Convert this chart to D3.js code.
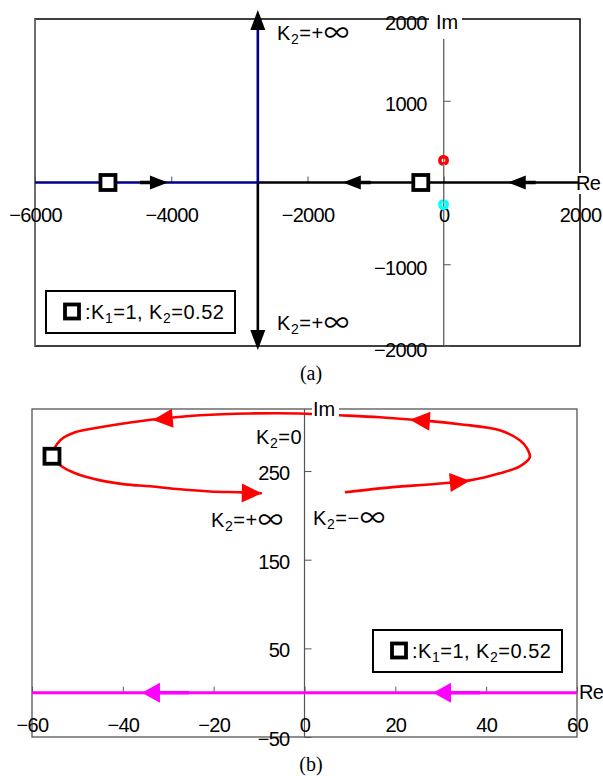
<!DOCTYPE html>
<html><head><meta charset="utf-8">
<script src="https://cdn.jsdelivr.net/npm/d3@7"></script>
<style>body{margin:0;background:#fff}svg{display:block}</style>
</head><body>
<svg id="c" width="603" height="776"></svg>
<script>
// ---------------- data ----------------
// complex-pair locus (upper half), traced from K2=-inf end to K2=+inf end
const loopRe = [8.9, 16.6, 29.8, 36.4, 43.0, 47.4, 49.6, 49.0, 47.4, 43.0, 34.2, 25.4, 16.6, 7.8, -1.0, -12.0, -23.0, -32.9, -39.5, -45.0, -50.5, -53.8, -55.6, -53.8, -50.5, -45.0, -39.5, -34.0, -27.4, -20.8, -13.5, -9.4];
const loopIm = [226, 230.5, 236, 239.5, 247.5, 255.4, 265.5, 275.7, 284.7, 296, 302.8, 307.3, 310.7, 313, 315, 315, 313, 308.5, 304, 299.4, 293.8, 284.7, 266.7, 256.5, 247.5, 239.5, 235, 232.8, 229.4, 227, 226, 224.9];
// real-axis branches (panel a)
const navyRe = [-6000, -2729, -2729];
const navyIm = [0, 0, 2000];
const blackRe = [2000, -2729, -2729];
const blackIm = [0, 0, -2000];
// real-axis branch (panel b)
const realRe = [-60, 60];
const realIm = [0, 0];
// K1=1, K2=0.52 roots
const markARe = [-4929, -337];
const markAIm = [0, 0];
const markBRe = [-55.6];
const markBIm = [266.7];
// arrows: tip and a point behind it (direction)
const arrowsA = [
  {tipRe: -4049, tipIm: 0, fromRe: -4600, fromIm: 0},
  {tipRe: -1482, tipIm: 0, fromRe: -900, fromIm: 0},
  {tipRe: 939, tipIm: 0, fromRe: 1500, fromIm: 0},
  {tipRe: -2729, tipIm: 2110, fromRe: -2729, fromIm: 1500},
  {tipRe: -2729, tipIm: -2050, fromRe: -2729, fromIm: -1500}
];
const arrowsRed = [
  {tipRe: 23.2, tipIm: 307.8, fromRe: 29.8, fromIm: 305.5},
  {tipRe: -33.4, tipIm: 307.5, fromRe: -23.0, fromIm: 312.5},
  {tipRe: 36.4, tipIm: 239.0, fromRe: 29.8, fromIm: 236},
  {tipRe: -9.4, tipIm: 224.9, fromRe: -16.0, fromIm: 225.6}
];
const arrowsMag = [
  {tipRe: -35.8, tipIm: 0, fromRe: -25, fromIm: 0},
  {tipRe: 28.3, tipIm: 0, fromRe: 40, fromIm: 0}
];
const xTicksA = [-6000, -4000, -2000, 0, 2000];
const yTicksA = [2000, 1000, -1000, -2000];
const xTicksB = [-60, -40, -20, 0, 20, 40, 60];
const yTicksB = [250, 150, 50, -50];

// ---------------- drawing ----------------
const svg = d3.select("#c");
const FONT = "'Liberation Sans', Arial, sans-serif";
const FS = 20, LS = -0.7;
const fmt = d3.format("d");

function arrow(g, x, y, a, len, wid, color, shaft) {
  const dx = x(a.tipRe) - x(a.fromRe), dy = y(a.tipIm) - y(a.fromIm);
  const ang = Math.atan2(dy, dx) * 180 / Math.PI;
  const t = g.append("g").attr("transform", `translate(${x(a.tipRe)},${y(a.tipIm)}) rotate(${ang})`);
  if (shaft) t.append("line").attr("x1", -len - shaft).attr("x2", -len + 2).attr("y1", 0).attr("y2", 0)
      .attr("stroke", color).attr("stroke-width", 3.5);
  t.append("path").attr("d", `M0,0 L${-len},${-wid/2} L${-len},${wid/2} Z`).attr("fill", color);
}

function kLabel(g, x, y, sub, rest) {
  const t = g.append("text").attr("x", x).attr("y", y).attr("font-family", FONT).attr("font-size", FS)
    .attr("letter-spacing", 0.6).attr("fill", "#000");
  t.append("tspan").text("K");
  t.append("tspan").attr("font-size", 14).attr("dy", 4).text(sub);
  const parts = rest.split("∞");
  t.append("tspan").attr("dy", -4).text(parts[0]);
  if (parts.length > 1) t.append("tspan").attr("font-family", "'Noto Sans CJK JP', sans-serif").attr("font-size", 25).attr("dy", 1.5).text("∞");
  return t;
}

function legend(g, x0, y0, w, h) {
  g.append("rect").attr("x", x0).attr("y", y0).attr("width", w).attr("height", h)
    .attr("fill", "#fff").attr("stroke", "#000").attr("stroke-width", 2);
  g.append("rect").attr("x", x0 + 19).attr("y", y0 + h/2 - 7.5).attr("width", 14).attr("height", 14)
    .attr("fill", "#fff").attr("stroke", "#000").attr("stroke-width", 3.8);
  const t = g.append("text").attr("x", x0 + 39).attr("y", y0 + h/2 + 7).attr("font-family", FONT)
    .attr("font-size", FS).attr("letter-spacing", 0.5);
  t.append("tspan").text(":K");
  t.append("tspan").attr("font-size", 14).attr("dy", 4).text("1");
  t.append("tspan").attr("dy", -4).text("=1,   K");
  t.append("tspan").attr("font-size", 14).attr("dy", 4).text("2");
  t.append("tspan").attr("dy", -4).text("=0.52");
}

function squares(g, x, y, re, im) {
  g.selectAll(null).data(re).enter().append("rect")
    .attr("x", (d, i) => x(d) - 7.5).attr("y", (d, i) => y(im[i]) - 7.5)
    .attr("width", 15).attr("height", 15)
    .attr("fill", "#fff").attr("stroke", "#000").attr("stroke-width", 3.8);
}

const lineGen = (x, y) => d3.line().x(d => x(d[0])).y(d => y(d[1]));
const zip = (a, b) => a.map((v, i) => [v, b[i]]);

function styleAxis(a) {
  a.select(".domain").remove();
  a.selectAll("line").attr("stroke", "#555");
  a.selectAll("text").attr("font-family", FONT).attr("font-size", FS).attr("letter-spacing", LS).attr("fill", "#000");
}

// ======== Panel (a) ========
{
  const x = d3.scaleLinear().domain([-6000, 2000]).range([35, 580]);
  const y = d3.scaleLinear().domain([-2000, 2000]).range([346, 19]);
  const g = svg.append("g");
  g.append("rect").attr("x", 35).attr("y", 19).attr("width", 545).attr("height", 327)
    .attr("fill", "none").attr("stroke", "#000").attr("stroke-width", 1.5);
  g.append("line").attr("x1", 35).attr("x2", 35).attr("y1", 19).attr("y2", 346).attr("stroke", "#808080").attr("stroke-width", 1.5);
  g.append("line").attr("x1", 35).attr("x2", 580).attr("y1", y(0)).attr("y2", y(0)).attr("stroke", "#555").attr("stroke-width", 1.2);
  g.append("line").attr("x1", x(0)).attr("x2", x(0)).attr("y1", 39).attr("y2", 346).attr("stroke", "#555").attr("stroke-width", 1.2);
  const xa = g.append("g").attr("transform", `translate(0,${y(0)})`)
    .call(d3.axisBottom(x).tickValues(xTicksA).tickFormat(fmt).tickSize(-6).tickPadding(25));
  const ya = g.append("g").attr("transform", `translate(${x(0)},0)`)
    .call(d3.axisLeft(y).tickValues(yTicksA).tickFormat(fmt).tickSize(-7).tickPadding(17));
  styleAxis(xa); styleAxis(ya);
  ya.selectAll(".tick text").attr("dy", "0.5em");
  g.append("path").datum(zip(blackRe, blackIm)).attr("d", lineGen(x, y)).attr("fill", "none").attr("stroke", "#000").attr("stroke-width", 2.6);
  g.append("path").datum(zip(navyRe, navyIm)).attr("d", lineGen(x, y)).attr("fill", "none").attr("stroke", "#00008b").attr("stroke-width", 2.6);
  g.append("path").datum(zip(loopRe, loopIm)).attr("d", lineGen(x, y).curve(d3.curveCatmullRom)).attr("fill", "none").attr("stroke", "#ff0000").attr("stroke-width", 3.6);
  g.append("path").datum(zip(loopRe, loopIm.map(v => -v))).attr("d", lineGen(x, y).curve(d3.curveCatmullRom)).attr("fill", "none").attr("stroke", "#00ffff").attr("stroke-width", 3.6);
  arrowsA.forEach((a, i) => arrow(g, x, y, a, i < 3 ? 18 : 20, i < 3 ? 14 : 15, "#000", i < 3 ? 10 : 0));
  squares(g, x, y, markARe, markAIm);
  legend(g, 46, 291, 189, 42);
  kLabel(g, 277, 40, "2", "=+∞");
  kLabel(g, 277, 330, "2", "=+∞");
  g.append("rect").attr("x", 429).attr("y", 6).attr("width", 33).attr("height", 32).attr("fill", "#fff");
  g.append("text").attr("x", 436).attr("y", 29).attr("font-family", FONT).attr("font-size", FS).text("Im");
  g.append("rect").attr("x", 578).attr("y", 173).attr("width", 25).attr("height", 21).attr("fill", "#fff");
  g.append("text").attr("x", 576).attr("y", 190).attr("font-family", FONT).attr("font-size", FS).attr("letter-spacing", LS).text("Re");
  g.append("text").attr("x", 311).attr("y", 380).attr("text-anchor", "middle").attr("font-family", "'Liberation Serif', 'Times New Roman', serif").attr("font-size", 20).text("(a)");
}

// ======== Panel (b) ========
{
  const x = d3.scaleLinear().domain([-60, 60]).range([32, 577]);
  const y = d3.scaleLinear().domain([-50, 320]).range([737, 409]);
  const g = svg.append("g");
  g.append("rect").attr("x", 32).attr("y", 409).attr("width", 545).attr("height", 328)
    .attr("fill", "none").attr("stroke", "#555").attr("stroke-width", 1.3);
  g.append("line").attr("x1", x(0)).attr("x2", x(0)).attr("y1", 409).attr("y2", 737).attr("stroke", "#555").attr("stroke-width", 1.2);
  const xa = g.append("g").attr("transform", `translate(0,${y(0)})`)
    .call(d3.axisBottom(x).tickValues(xTicksB).tickFormat(fmt).tickSize(-6).tickPadding(25));
  const ya = g.append("g").attr("transform", `translate(${x(0)},0)`)
    .call(d3.axisLeft(y).tickValues(yTicksB).tickFormat(fmt).tickSize(-7).tickPadding(15));
  styleAxis(xa); styleAxis(ya);
  ya.selectAll(".tick text").attr("dy", "0.42em");
  g.append("path").datum(zip(realRe, realIm)).attr("d", lineGen(x, y)).attr("fill", "none").attr("stroke", "#ff00ff").attr("stroke-width", 3);
  g.append("path").datum(zip(loopRe, loopIm)).attr("d", lineGen(x, y).curve(d3.curveCatmullRom)).attr("fill", "none").attr("stroke", "#ff0000").attr("stroke-width", 2.6);
  arrowsRed.forEach(a => arrow(g, x, y, a, 20, 19, "#ff0000", 0));
  arrowsMag.forEach(a => arrow(g, x, y, a, 18, 20, "#ff00ff", 29));
  squares(g, x, y, markBRe, markBIm);
  legend(g, 373, 630, 189, 42);
  kLabel(g, 256, 444, "2", "=0");
  kLabel(g, 211, 527, "2", "=+∞");
  kLabel(g, 313, 525, "2", "=−∞");
  g.append("rect").attr("x", 312).attr("y", 398).attr("width", 27).attr("height", 20).attr("fill", "#fff");
  g.append("text").attr("x", 313).attr("y", 416).attr("font-family", FONT).attr("font-size", FS).text("Im");
  g.append("text").attr("x", 579).attr("y", 699).attr("font-family", FONT).attr("font-size", FS).attr("letter-spacing", LS).text("Re");
  g.append("text").attr("x", 311).attr("y", 771).attr("text-anchor", "middle").attr("font-family", "'Liberation Serif', 'Times New Roman', serif").attr("font-size", 20).text("(b)");
}
</script>
</body></html>
